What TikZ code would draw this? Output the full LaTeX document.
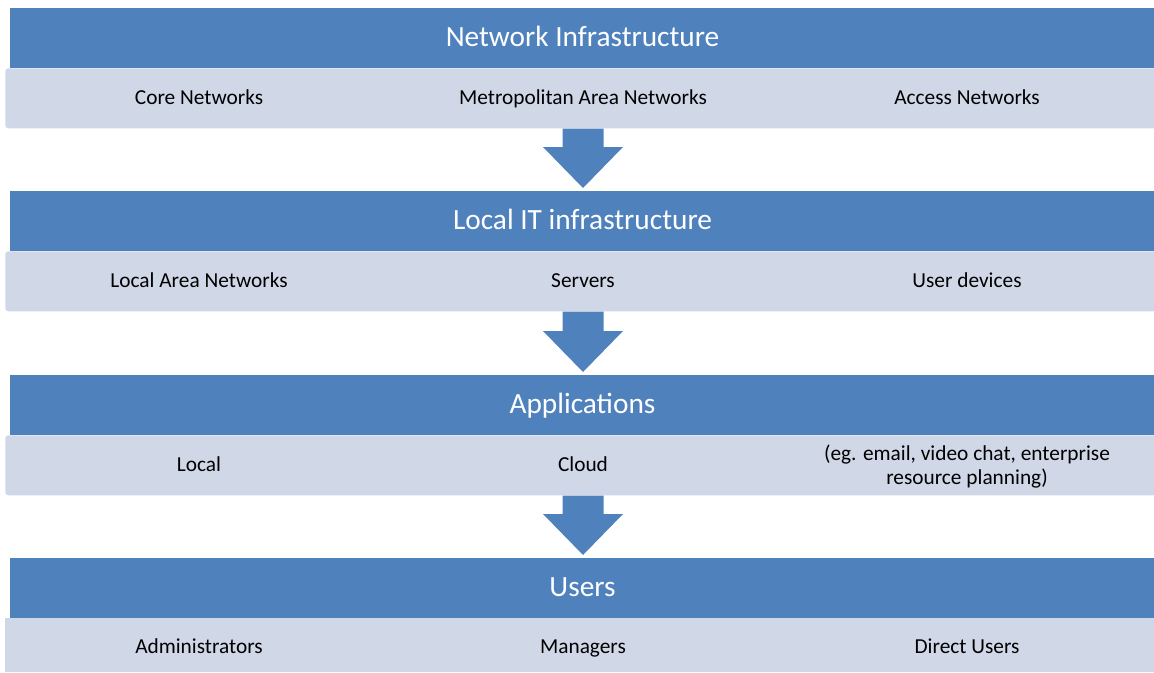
\documentclass[tikz,border=0pt]{standalone}
\usepackage{fontspec}
\setmainfont{Carlito}
\usetikzlibrary{calc}
\definecolor{bandblue}{RGB}{79,129,189}
\definecolor{bandlight}{RGB}{208,216,232}
\begin{document}
\begin{tikzpicture}[x=0.75pt,y=-0.75pt,
  titleband/.style={fill=bandblue, draw=none, anchor=north west, inner sep=0pt,
    minimum width=858pt, minimum height=45pt},
  itemband/.style={fill=bandlight, draw=none, anchor=north west, inner sep=0pt,
    rounded corners=2.25pt, minimum width=863.25pt, minimum height=45pt},
  titletext/.style={text=white, inner sep=0pt, anchor=base, font=\fontsize{22}{26}\selectfont},
  itemtext/.style={text=black, inner sep=0pt, anchor=base, align=center, font=\fontsize{16}{18}\selectfont},
  flow/.style={fill=bandblue, draw=none}]
\useasboundingbox (0,0) rectangle (1154,672);

% ---- tier 1: network infrastructure
\node[itemband]  (sub1) at (5,68) {};
\node[titleband] (hdr1) at (10,8) {};
\node[titletext] (t1) at (582.5,46.5) {Network Infrastructure};
\node[itemtext]  (n11) at (199,104) {Core Networks};
\node[itemtext]  (n12) at (583,104) {Metropolitan Area Networks};
\node[itemtext]  (n13) at (967,104) {Access Networks};

% ---- tier 2: local IT infrastructure
\node[itemband]  (sub2) at (5,251) {};
\node[titleband] (hdr2) at (10,191) {};
\node[titletext] (t2) at (582.5,229.5) {Local IT infrastructure};
\node[itemtext]  (n21) at (199,287.5) {Local Area Networks};
\node[itemtext]  (n22) at (583,287.5) {Servers};
\node[itemtext]  (n23) at (967,287.5) {User devices};

% ---- tier 3: applications
\node[itemband]  (sub3) at (5,435) {};
\node[titleband] (hdr3) at (10,375) {};
\node[titletext] (t3) at (582.5,413) {Applications};
\node[itemtext]  (n31) at (199,471) {Local};
\node[itemtext]  (n32) at (583,471) {Cloud};
\node[itemtext, anchor=center] (n33) at (967,466.5) {(eg. email, video chat, enterprise\\resource planning)};

% ---- tier 4: users
\node[itemband, minimum height=40.5pt, sharp corners] (sub4) at (5,618) {};
\node[titleband] (hdr4) at (10,558) {};
\node[titletext] (t4) at (582.5,596.5) {Users};
\node[itemtext]  (n41) at (199,653) {Administrators};
\node[itemtext]  (n42) at (583,653) {Managers};
\node[itemtext]  (n43) at (967,653) {Direct Users};

% ---- block arrows between the tiers
\foreach \a/\b in {1/2, 2/3, 3/4} {
  \coordinate (top\a) at ($(n\a2 |- sub\a.south)$);
  \coordinate (tip\a) at ($(n\a2 |- hdr\b.north)+(0,-3)$);
  \fill[flow] ($(top\a)+(-20.5,0)$) -- ($(tip\a)+(-20.5,-41)$) -- ($(tip\a)+(-40,-41)$)
    -- (tip\a) -- ($(tip\a)+(40,-41)$) -- ($(tip\a)+(20.5,-41)$)
    -- ($(top\a)+(20.5,0)$) -- cycle;
}
\end{tikzpicture}
\end{document}
